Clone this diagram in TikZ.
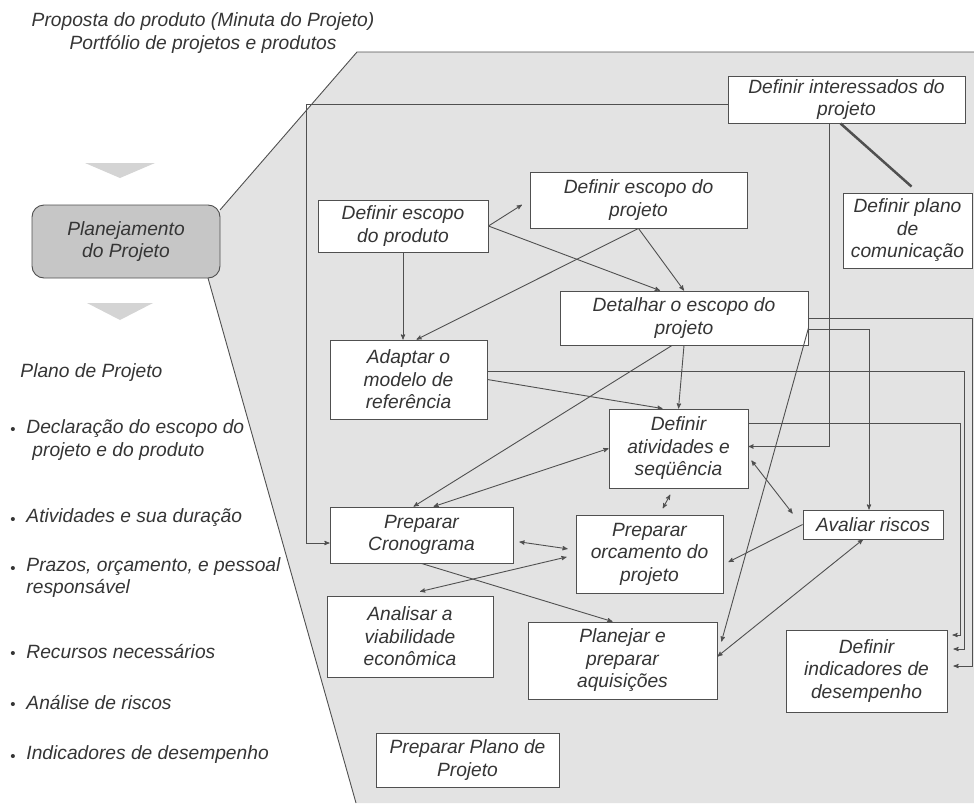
\documentclass[tikz,border=0pt]{standalone}
\usepackage{fontspec}
\setmainfont{Liberation Sans}
\usetikzlibrary{shapes,calc,positioning,arrows}

\definecolor{linegray}{HTML}{505050}
\definecolor{textgray}{HTML}{353535}
\definecolor{areagray}{HTML}{E3E3E3}
\definecolor{plangray}{HTML}{C6C6C6}
\definecolor{chevgray}{HTML}{D4D4D4}

\begin{document}
\begin{tikzpicture}[x=1pt, y=-1pt, >=stealth', line width=0.9pt,
   color=linegray, text=textgray,
   font=\fontsize{19.2}{22.5}\selectfont\itshape,
   act/.style={rectangle, draw=linegray, fill=white, align=center, inner sep=0pt},
   flow/.style={->},
   both/.style={<->},
   lbl/.style={anchor=west, align=left, inner sep=0pt}]

  \useasboundingbox (0,0) rectangle (974,803);

  \fill[areagray] (220,210) -- (357,52) -- (974,52) -- (974,803) -- (356,803) -- (208,278) -- cycle;
  \draw (974,52) -- (357,52) -- (220,210);
  \draw (208,278) -- (356,803);

  \fill[chevgray] (85,163) -- (155,163) -- (120,178) -- cycle;
  \fill[chevgray] (87,303) -- (153,303) -- (120,320) -- cycle;

  \node (prop) at (203,22) {Proposta do produto (Minuta do Projeto)};
  \node (port) at (203,44) {Portfólio de projetos e produtos};

  \node[act, minimum width=188, minimum height=73, rounded corners=12pt, fill=plangray] (plan) at (126,241.5) {Planejamento\\do Projeto};

  \node[lbl] (plproj) at (20,373) {Plano de Projeto};
  \foreach \y/\n in {428/a, 518/b, 567/c, 652/d, 703/e, 755/f}
    \node[inner sep=0pt, font=\fontsize{15}{15}\selectfont] (bul\n) at (13,\y+3) {\textbullet};
  \node[lbl] (decl) at (26,440) {Declaração do escopo do\\\hspace*{6pt}projeto e do produto};
  \node[lbl] (ativdur) at (26,518) {Atividades e sua duração};
  \node[lbl] (prazos) at (26,577.5) {Prazos, orçamento, e pessoal\\responsável};
  \node[lbl] (recursos) at (26,652) {Recursos necessários};
  \node[lbl] (riscos) at (26,703) {Análise de riscos};
  \node[lbl] (indic) at (26,755) {Indicadores de desempenho};

  \node[act, minimum width=170, minimum height=52] (prod) at (403,226) {Definir escopo\\do produto};
  \node[act, minimum width=217, minimum height=56] (escproj) at (638.5,200) {Definir escopo do\\projeto};
  \node[act, minimum width=237, minimum height=47] (inter) at (846.5,99.5) {Definir interessados do\\projeto};
  \node[act, minimum width=129, minimum height=75] (com) at (907.5,230.5) {Definir plano\\de\\comunicação};
  \node[act, minimum width=248, minimum height=54] (det) at (684,318) {Detalhar o escopo do\\projeto};
  \node[act, minimum width=157, minimum height=79] (adapt) at (408.5,379.5) {Adaptar o\\modelo de\\referência};
  \node[act, minimum width=139, minimum height=79] (ativ) at (678.5,448.5) {Definir\\atividades e\\seqüência};
  \node[act, minimum width=147, minimum height=78] (orc) at (649.5,554) {Preparar\\orcamento do\\projeto};
  \node[act, minimum width=140, minimum height=29] (aval) at (873,524.5) {Avaliar riscos};
  \node[act, minimum width=183, minimum height=56] (cron) at (421.5,535) {Preparar\\Cronograma};
  \node[act, minimum width=166, minimum height=81] (anal) at (410,636.5) {Analisar a\\viabilidade\\econômica};
  \node[act, minimum width=189, minimum height=77] (aquis) at (622.5,660.5) {Planejar e\\preparar\\aquisições};
  \node[act, minimum width=161, minimum height=82] (ind) at (866.5,671) {Definir\\indicadores de\\desempenho};
  \node[act, minimum width=183, minimum height=54] (plano) at (467.5,760) {Preparar Plano de\\Projeto};

  \draw[flow] ($(inter.west)+(0,5)$) -| ($(cron.west)+(-23,8)$) -- ($(cron.west)+(0,8)$);
  \draw[line width=2.5pt] ($(inter.south)+(-6,0)$) -- ($(com.north)+(4,-6)$);
  \draw[flow] ($(inter.south)+(-17,0)$) |- ($(ativ.east)+(0,-2)$);

  \draw[flow, shorten >=9pt] (prod.east) -- (escproj.west);
  \draw[flow] (prod.east) -- ($(det.north)+(-24,0)$);
  \draw[flow] (prod.south) -- (prod.south |- adapt.north);
  \draw[flow] (escproj.south) -- (det.north);
  \draw[flow] (escproj.south) -- ($(adapt.north)+(8,0)$);

  \draw[flow] ($(det.south)+(-12,0)$) -- ($(cron.north)+(-8,0)$);
  \draw[flow] (det.south) -- (ativ.north);
  \draw[flow] (det.east) -| ($(ind.east)+(25,-5)$) -- ($(ind.east)+(6,-5)$);
  \draw[flow] ($(det.east)+(0,11)$) -| ($(aval.north)+(-4,0)$);
  \draw[flow] ($(det.east)+(0,10)$) -- ($(aquis.north east)+(4,20)$);

  \draw[flow] (adapt.east) -- ($(ativ.north)+(-16,0)$);
  \draw[flow] ($(adapt.east)+(0,-8)$) -| ($(ind.east)+(17,-22)$) -- ($(ind.east)+(6,-22)$);
  \draw[flow] ($(ativ.east)+(0,-25)$) -| ($(ind.east)+(13,-36)$) -- ($(ind.east)+(5,-36)$);

  \draw[both] (ativ.west) -- ($(cron.north)+(12,0)$);
  \draw[both, shorten <=7pt, shorten >=7pt] ($(ativ.south)+(-5,0)$) -- ($(orc.north)+(10,0)$);
  \draw[both] ($(ativ.east)+(3,12)$) -- ($(aval.west)+(-10,-11)$);
  \draw[flow] (aval.west) -- ($(orc.east)+(5,8)$);
  \draw[both] ($(aval.south)+(-10,0)$) -- ($(aquis.east)+(0,-4)$);

  \draw[both, shorten <=6pt, shorten >=8pt] ($(cron.east)+(0,6)$) -- ($(orc.west)+(0,-4)$);
  \draw[both] ($(orc.west)+(-9,3)$) -- ($(anal.north)+(10,-4)$);
  \draw[flow] (cron.south) -- ($(aquis.north)+(-10,0)$);
\end{tikzpicture}
\end{document}
